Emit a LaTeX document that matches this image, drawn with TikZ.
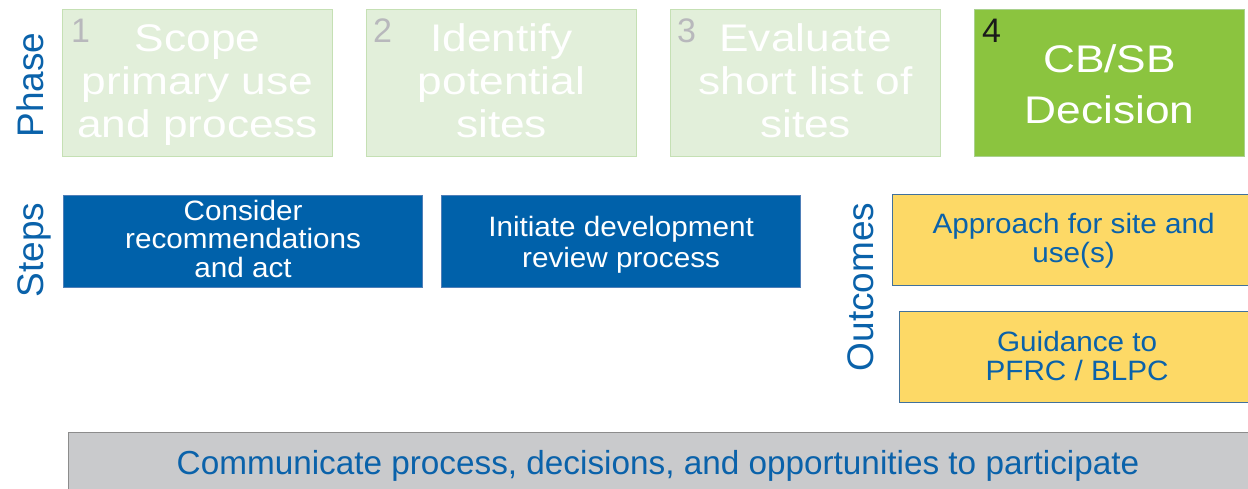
\documentclass[tikz,border=0pt]{standalone}
\usepackage{fontspec}
\setmainfont{Liberation Sans}
\newfontfamily\widesans[FakeStretch=1.15]{Liberation Sans}
\newfontfamily\stepsans[FakeStretch=1.06]{Liberation Sans}
\definecolor{phasefill}{HTML}{E2EFDA}
\definecolor{phaseline}{HTML}{C5E0B4}
\definecolor{activefill}{HTML}{8BC43F}
\definecolor{activeline}{HTML}{A9D18E}
\definecolor{stepfill}{HTML}{0061AA}
\definecolor{stepline}{HTML}{4F7FB8}
\definecolor{outfill}{HTML}{FDD966}
\definecolor{outline}{HTML}{41719C}
\definecolor{commfill}{HTML}{C9CACC}
\definecolor{commline}{HTML}{8C8C8C}
\definecolor{labelblue}{HTML}{0A62AA}
\definecolor{numgray}{HTML}{B8B8BC}
\definecolor{numdark}{HTML}{1A1A1A}
\newcommand{\topgap}[1]{\rule{0pt}{#1pt}}
\begin{document}
\begin{tikzpicture}[x=1pt,y=-1pt,
  phasebox/.style={draw=phaseline, fill=phasefill, line width=1.2pt, anchor=north west,
    minimum width=270pt, minimum height=147pt, inner sep=0pt},
  activebox/.style={phasebox, draw=activeline, fill=activefill},
  phasetext/.style={inner sep=0pt, align=center, text=white,
    font=\widesans\fontsize{38.5}{43}\selectfont},
  numlabel/.style={anchor=base west, inner sep=0pt, text=numgray, font=\fontsize{34}{36}\selectfont},
  sidelabel/.style={rotate=90, anchor=base, inner sep=0pt, text=labelblue, font=\fontsize{37}{40}\selectfont},
  stepbox/.style={draw=stepline, fill=stepfill, line width=1.2pt, anchor=north west,
    minimum width=359pt, minimum height=92pt, inner sep=0pt, align=center, text=white,
    font=\stepsans\fontsize{28}{28.5}\selectfont},
  outbox/.style={draw=outline, fill=outfill, line width=1.2pt, anchor=north west,
    minimum height=91pt, inner sep=0pt, align=center, text=labelblue,
    font=\stepsans\fontsize{28}{29}\selectfont},
  commbox/.style={draw=commline, fill=commfill, line width=1.2pt, anchor=north west,
    minimum width=1190pt, minimum height=62pt, inner sep=0pt},
  commtext/.style={inner sep=0pt, text=labelblue, font=\fontsize{33.3}{36}\selectfont}
]
\useasboundingbox (0,0) rectangle (1248,489);
\begin{scope}
\clip (0,0) rectangle (1248,489);
% phase row
\node[sidelabel] (phaselbl) at (43,85) {Phase};
\node[phasebox] (p1) at (62,9) {};
\node[phasebox] (p2) at (366,9) {};
\node[phasebox] (p3) at (670,9) {};
\node[activebox] (p4) at (974,9) {};
\node[phasetext, yshift=-3pt] (t1) at (p1.center) {\strut Scope\\primary use\\and process\strut};
\node[phasetext, yshift=-3pt] (t2) at (p2.center) {\strut Identify\\potential\\sites\strut};
\node[phasetext, yshift=-3pt] (t3) at (p3.center) {\strut Evaluate\\short list of\\sites\strut};
\node[phasetext, font=\widesans\fontsize{38.5}{51}\selectfont, yshift=-5pt] (t4) at (p4.center) {\strut CB/SB\\Decision\strut};
\node[numlabel] (n1) at (71,43) {1};
\node[numlabel] (n2) at (373,43) {2};
\node[numlabel] (n3) at (677,43) {3};
\node[numlabel, text=numdark] (n4) at (982,43) {4};
% steps row
\node[sidelabel] (stepslbl) at (43,250) {Steps};
\node[stepbox] (s1) at (63,195) {\topgap{23}Consider\\recommendations\\and act\strut};
\node[stepbox, font=\stepsans\fontsize{28}{32}\selectfont] (s2) at (441,195) {\topgap{30.4}Initiate development\\review process\strut};
% outcomes
\node[sidelabel] (outlbl) at (873,287) {Outcomes};
\node[outbox, minimum width=362pt] (o1) at (892,194) {\topgap{24.3}Approach for site and\\use(s)\strut};
\node[outbox, minimum width=355pt] (o2) at (899,311) {\topgap{26.3}Guidance to\\PFRC / BLPC\strut};
% communicate
\node[commbox] (cbox) at (68,432) {};
\node[commtext, yshift=-3pt] (ctext) at (658,463) {Communicate process, decisions, and opportunities to participate};
\end{scope}
\end{tikzpicture}
\end{document}
